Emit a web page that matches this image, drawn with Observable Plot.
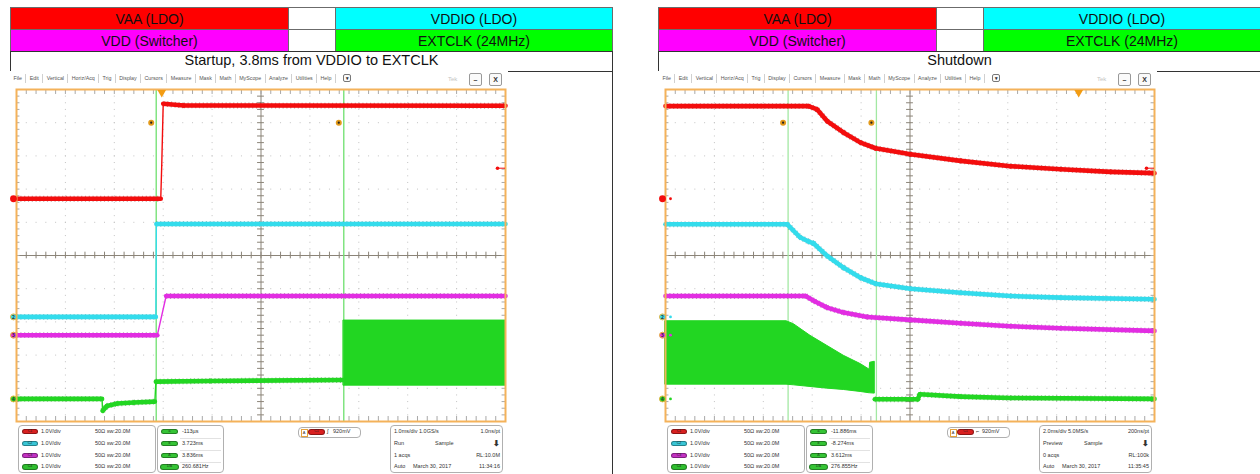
<!DOCTYPE html>
<html>
<head>
<meta charset="utf-8">
<script src="https://cdn.jsdelivr.net/npm/d3@7"></script>
<script src="https://cdn.jsdelivr.net/npm/@observablehq/plot@0.6"></script>
<style>
  html, body { margin: 0; padding: 0; background: #fff; }
  #page { position: relative; width: 1260px; height: 474px; overflow: hidden; background: #fff;
          font-family: "Liberation Sans", Arial, sans-serif; }
  .cell { position: absolute; box-sizing: border-box; border: 1px solid #6b6b6b; display: flex;
          align-items: center; justify-content: center; font-size: 14px; color: #111; line-height: 1; }
  .title { position: absolute; box-sizing: border-box; border: 1px solid #333; display: flex;
           align-items: center; justify-content: center; font-size: 14.5px; color: #111; background: #fff; line-height: 1; }
  .shot { position: absolute; background: #fff; }
  .menu { position: absolute; display: flex; font-family: "Liberation Sans", Arial, sans-serif;
          font-size: 5.3px; color: #555; white-space: nowrap; line-height: 9px; }
  .menu span { padding: 0 3.4px; border-right: 1px solid #d0d0d0; }
  .btn { position: absolute; box-sizing: border-box; border: 1px solid #999; border-radius: 2px;
         font-family: "Liberation Sans", Arial, sans-serif; font-size: 7px; color: #333; font-weight: bold;
         display: flex; align-items: center; justify-content: center; background: #fafafa; }
  .box { position: absolute; box-sizing: border-box; border: 1.5px solid #b0b0b0; border-radius: 4px; background: #fff; }
  .txt { position: absolute; font-family: "Liberation Sans", Arial, sans-serif; font-size: 5.5px; color: #333;
         white-space: nowrap; line-height: 1; }
  .pill { position: absolute; height: 5.5px; border-radius: 3px; box-sizing: border-box;
          border: 1px solid rgba(0,0,0,0.35); font-family: "Liberation Sans", Arial, sans-serif;
          font-size: 3.5px; line-height: 3.5px; text-align: center; color: #222; }
  .vline { position: absolute; width: 1px; background: #333; }
</style>
</head>
<body>
<div id="page"></div>
<script>
// ---------- legend above each capture ----------
const legendTop = ["VAA (LDO)", "VDDIO (LDO)"];
const legendBottom = ["VDD (Switcher)", "EXTCLK (24MHz)"];
const legendTopColors = ["#ff0000", "#00ffff"];
const legendBottomColors = ["#ff00ff", "#00ff00"];
const captureTitles = ["Startup, 3.8ms from VDDIO to EXTCLK", "Shutdown"];

// ---------- scope channels: C1 VAA, C2 VDDIO, C3 VDD, C4 EXTCLK ----------
const traceColors = ["#f30d0d", "#33dcec", "#e22de2", "#22d622"];
const traceEdge = ["#700000", "#0a6570", "#650a65", "#0b600b"];
const pillColors = ["#d92020", "#39c6d6", "#c331c3", "#2fbf2f"];
const groundDiv = [1.71, -1.85, -2.40, -4.32];   // ground reference, divisions from centre
const voltsPerDiv = [1.0, 1.0, 1.0, 1.0];
const channelSettings = ["1.0V/div", "1.0V/div", "1.0V/div", "1.0V/div"];
const triggerLevel = 0.92;                       // V on C1

// ---------- startup capture: [time ms, volts] ----------
const startupWindow = [-2.97, 7.03];
const startupMsPerDiv = 1.0;
const startupCursors = [-0.113, 3.723];
const startupVAA = [[-2.97, 0.0], [-0.02, 0.0], [0.0, 1.0], [0.03, 2.86], [0.45, 2.81], [7.03, 2.80]];
const startupVDDIO = [[-2.97, 0.0], [-0.12, 0.0], [-0.11, 2.80], [7.03, 2.80]];
const startupVDD = [[-2.97, 0.0], [-0.09, 0.0], [0.09, 1.18], [7.03, 1.18]];
const startupCLK = [[-2.97, 0.0], [-1.22, 0.0], [-1.21, -0.36], [-1.12, -0.21], [-0.91, -0.14],
                    [-0.57, -0.11], [-0.14, -0.08], [-0.12, 0.52], [1.0, 0.54], [3.72, 0.57]];
const startupCLKBand = [[3.723, 0.40, 2.36], [7.03, 0.40, 2.36]];   // [t, low, high]

// ---------- shutdown capture ----------
const shutdownWindow = [-16.9, 3.1];
const shutdownMsPerDiv = 2.0;
const shutdownCursors = [-11.886, -8.274];
const shutdownVAA = [[-16.9, 2.79], [-11.05, 2.79], [-10.70, 2.69], [-10.29, 2.34], [-9.61, 1.99],
                     [-8.92, 1.69], [-8.31, 1.52], [-6.88, 1.34], [-4.83, 1.14], [-2.79, 0.98],
                     [-0.74, 0.89], [1.30, 0.81], [3.1, 0.77]];
const shutdownVDDIO = [[-16.9, 2.79], [-11.92, 2.79], [-11.40, 2.40], [-11.05, 2.27], [-10.85, 2.22],
                       [-10.29, 1.84], [-9.61, 1.48], [-8.92, 1.18], [-8.31, 1.00], [-6.88, 0.85],
                       [-4.83, 0.73], [-2.79, 0.63], [-0.74, 0.58], [3.1, 0.53]];
const shutdownVDD = [[-16.9, 1.18], [-11.17, 1.18], [-10.80, 1.02], [-10.29, 0.83], [-9.61, 0.68],
                     [-8.65, 0.55], [-6.88, 0.46], [-4.83, 0.36], [-2.79, 0.27], [-0.74, 0.21], [3.1, 0.13]];
const shutdownCLKBand = [[-16.9, 0.43, 2.34], [-11.95, 0.43, 2.34], [-11.65, 0.41, 2.25], [-10.97, 0.36, 1.90],
                         [-10.29, 0.31, 1.60], [-9.61, 0.27, 1.30], [-8.92, 0.21, 1.05], [-8.55, 0.17, 0.88],
                         [-8.53, 0.17, 1.09], [-8.34, 0.16, 1.12]];
const shutdownCLK = [[-8.34, -0.01], [-6.58, -0.01], [-6.50, 0.14], [-4.83, 0.07], [-2.79, 0.03], [3.1, 0.0]];

// ---------- readouts ----------
const cursorLabels = ["a", "b", "Δ", "1/Δ"];
const startupReadout = ["-113µs", "3.723ms", "3.836ms", "260.681Hz"];
const shutdownReadout = ["-11.886ms", "-8.274ms", "3.612ms", "276.855Hz"];
const startupAcq = [["1.0ms/div", "1.0GS/s", "1.0ns/pt"], ["Run", "Sample", "⬇"], ["1 acqs", "", "RL:10.0M"], ["Auto", "March 30, 2017", "11:34:16"]];
const shutdownAcq = [["2.0ms/div", "5.0MS/s", "200ns/pt"], ["Preview", "Sample", "⬇"], ["0 acqs", "", "RL:100k"], ["Auto", "March 30, 2017", "11:35:45"]];
const menuItems = ["File", "Edit", "Vertical", "Horiz/Acq", "Trig", "Display", "Cursors", "Measure", "Mask", "Math", "MyScope", "Analyze", "Utilities", "Help"];

// ---------- drawing ----------
const page = document.getElementById("page");
function add(cls, x, y, w, h, html, extra) {
  const e = document.createElement("div");
  e.className = cls;
  e.style.left = x + "px"; e.style.top = y + "px";
  if (w != null) e.style.width = w + "px";
  if (h != null) e.style.height = h + "px";
  if (html != null) e.innerHTML = html;
  if (extra) Object.assign(e.style, extra);
  page.appendChild(e);
  return e;
}

const W = 489, H = 332, PAD = 12;

function scopePlot(o) {
  const [t0, t1] = o.window, td = o.msPerDiv, tc = t0 + 5 * td;
  const pxPerMs = W / (t1 - t0), pxPerDiv = H / 10;
  const gridX = d3.range(1, 10).filter(k => k !== 5).map(k => t0 + k * td);
  const gridY = [-4, -3, -2, -1, 1, 2, 3, 4];
  const fineX = d3.range(1, 50).map(k => t0 + k * td / 5);
  const fineY = d3.range(-24, 25).map(k => k / 5);
  const T = d => d[0];
  const screen = (ch, i = 1) => d => groundDiv[ch] + d[i] / voltsPerDiv[ch];

  // split a record into segments; fast edges are drawn as a thin line like the scope does
  const segments = (data, ch) => d3.pairs(data).map(([a, b]) => {
    const dx = Math.abs(b[0] - a[0]) * pxPerMs, dy = Math.abs(b[1] - a[1]) / voltsPerDiv[ch] * pxPerDiv;
    return {a, b, fast: dy > 8 && dy > 3 * dx};
  });
  const trace = (data, ch) => {
    const segs = segments(data, ch);
    const y = screen(ch);
    const link = (list, opts) => Plot.link(list, {x1: s => s.a[0], y1: s => y(s.a), x2: s => s.b[0], y2: s => y(s.b),
                                                  strokeLinecap: "round", ...opts});
    const slow = segs.filter(s => !s.fast);
    return [
      link(slow, {stroke: traceEdge[ch], strokeWidth: 5.8, strokeDasharray: "1.2,2.6", strokeOpacity: 0.4, strokeLinecap: "butt"}),
      link(slow, {stroke: traceColors[ch], strokeWidth: 4.6}),
      link(segs.filter(s => s.fast), {stroke: traceColors[ch], strokeWidth: 1.4})
    ];
  };
  const band = (data, ch) => [
    Plot.areaY(data, {x: T, y1: screen(ch, 1), y2: screen(ch, 2), fill: traceColors[ch], stroke: traceColors[ch], strokeWidth: 1})
  ];
  const grid = "#c2c2c2", axisC = "#8b8478";
  const chs = [0, 1, 2, 3];
  return Plot.plot({
    width: W + 2 * PAD, height: H + 2 * PAD, margin: PAD,
    x: {domain: o.window, axis: null},
    y: {domain: [-5, 5], axis: null},
    color: {type: "identity"},
    style: {background: "transparent", overflow: "visible"},
    marks: [
      Plot.ruleX(gridX, {stroke: grid, strokeDasharray: "1,5.64"}),
      Plot.ruleY(gridY, {stroke: grid, strokeDasharray: "1,8.78"}),
      Plot.ruleX([tc], {stroke: axisC}),
      Plot.ruleY([0], {stroke: axisC}),
      Plot.ruleX(fineX, {y1: -0.1, y2: 0.1, stroke: axisC}),
      Plot.ruleY(fineY, {x1: tc - 0.07 * td, x2: tc + 0.07 * td, stroke: axisC}),
      Plot.ruleX(fineX, {y1: 5, y2: 4.85, stroke: "#a8a8a8"}),
      Plot.ruleX(fineX, {y1: -5, y2: -4.85, stroke: "#a8a8a8"}),
      Plot.ruleY(fineY, {x1: t0, x2: t0 + 0.07 * td, stroke: "#a8a8a8"}),
      Plot.ruleY(fineY, {x1: t1, x2: t1 - 0.07 * td, stroke: "#a8a8a8"}),
      Plot.ruleX(o.cursors, {stroke: o.cursorColor, strokeWidth: 1.3}),
      ...o.bands.flatMap(([d, ch]) => band(d, ch)),
      ...o.traces.flatMap(([d, ch]) => trace(d, ch)),
      Plot.frame({stroke: "#f4b25a", strokeWidth: 2}),
      // trigger position
      Plot.dot([0], {x: d => d, y: () => 5, symbol: "triangle", rotate: 180, r: 3.2, fill: "#f39c12", dy: 3}),
      // trigger level on C1
      Plot.ruleY([groundDiv[0] + triggerLevel / voltsPerDiv[0]], {x1: t1 - 0.16 * td, x2: t1, stroke: "#f30d0d", strokeWidth: 1}),
      Plot.dot([groundDiv[0] + triggerLevel / voltsPerDiv[0]], {x: () => t1, y: d => d, dx: -8, r: 1.8, fill: "#f30d0d"}),
      // cursor handles
      Plot.dot(o.cursors, {x: d => d, y: () => 4, dx: -5, r: 3, fill: "#e39a1a"}),
      Plot.dot(o.cursors, {x: d => d, y: () => 4, dx: -5, r: 1.1, fill: "#222"}),
      // ground reference markers
      Plot.dot(chs, {x: () => t0, y: d => groundDiv[d], dx: o.tails ? 5 : 3, r: 1.4, fill: d => traceColors[d]}),
      Plot.dot(chs, {x: () => t0, y: d => groundDiv[d], dx: -3, r: d => d === 0 ? 5.5 : 4.2,
                     fill: d => traceColors[d], stroke: d => d === 0 ? "none" : "#e6b33e", strokeWidth: 1}),
      Plot.text(chs.slice(1), {x: () => t0, y: d => groundDiv[d], dx: -3, text: d => String(d + 1),
                               fontSize: 5, fill: "#333", fontWeight: "bold"})
    ]
  });
}

function drawPanel(p) {
  const hx = p.headerX, sx = p.shotX;
  // legend table
  add("cell", hx + 10, 7, 279, 23, legendTop[0], {background: legendTopColors[0]});
  add("cell", hx + 288, 7, 48, 23, "", {background: "#fff"});
  add("cell", hx + 335, 7, 278, 23, legendTop[1], {background: legendTopColors[1]});
  add("cell", hx + 10, 29, 279, 23, legendBottom[0], {background: legendBottomColors[0]});
  add("cell", hx + 288, 29, 48, 23, "", {background: "#fff"});
  add("cell", hx + 335, 29, 278, 23, legendBottom[1], {background: legendBottomColors[1]});
  add("title", hx + 10, 51, 603, 21, p.title, {paddingBottom: "2px"});
  if (p.rightRule) add("vline", hx + 612, 51, null, 430);

  // oscilloscope screen capture
  add("shot", sx - 7, 71, 499, 403);
  const menu = add("menu", sx - 6, 74, null, 9);
  menu.innerHTML = menuItems.map(m => `<span>${m}</span>`).join("");
  add("btn", sx + 327, 74, 8, 8, "▾", {fontSize: "5px", borderColor: "#777"});
  add("txt", sx + 432, 76, null, null, "Tek", {color: "#c4c4c4", fontSize: "6px"});
  add("btn", sx + 453, 73, 13, 13, "–");
  add("btn", sx + 473, 73, 13, 13, "X");

  const svg = scopePlot(p);
  svg.style.position = "absolute";
  svg.style.left = (sx - PAD) + "px";
  svg.style.top = (89 - PAD) + "px";
  page.appendChild(svg);

  // channel settings
  add("box", sx + 2, 425, 138, 48);
  const rowsY = [428.5, 440.5, 452.5, 464];
  channelSettings.forEach((s, i) => {
    add("pill", sx + 6, rowsY[i] + 0.3, 16, null, "C" + (i + 1), {background: pillColors[i]});
    add("txt", sx + 25, rowsY[i], null, null, s);
    add("txt", sx + 79, rowsY[i], null, null, "50Ω");
    add("txt", sx + 91, rowsY[i], null, null, "<span style='font-size:3.8px'>B</span>w:20.0M");
  });
  // cursor readouts
  add("box", sx + 141, 425, 67, 48);
  p.readout.forEach((s, i) => {
    add("pill", sx + 145 - (i === 3 ? 1 : 0), rowsY[i] + 0.3, i === 3 ? 19 : 17, null, cursorLabels[i], {background: "#35c435"});
    add("txt", sx + 166, rowsY[i], null, null, s);
    if (i < 3) add("shot", sx + 164, rowsY[i] + 9.5, 41, 0.6, null, {background: "#e2e2e2"});
  });
  // trigger
  add("box", sx + 282, 427, 63, 11);
  add("txt", sx + 284.5, 429, 5, 6, "A", {fontSize: "4px", border: "1px solid #e6a23c", textAlign: "center", lineHeight: "5px"});
  add("pill", sx + 292, 429.3, 17, null, "C1", {background: pillColors[0]});
  add("txt", sx + 311, 429, null, null, p.edge);
  add("txt", sx + 317, 429, null, null, "920mV");
  // acquisition
  add("box", sx + 374, 425, 113, 48);
  p.acq.forEach((r, i) => {
    add("txt", sx + 378, rowsY[i], null, null, r[0]);
    if (r[1]) add("txt", i === 1 ? sx + 419 : sx + (i === 0 ? 403 : 397), rowsY[i], null, null, r[1]);
    const e = add("txt", sx + 484, rowsY[i], null, null, r[2], {transform: "translateX(-100%)"});
    if (i === 1) { e.style.fontSize = "8px"; e.style.top = (rowsY[i] - 1) + "px"; e.style.fontWeight = "bold"; }
  });
}

drawPanel({
  headerX: 0, shotX: 16, title: captureTitles[0], rightRule: true,
  window: startupWindow, msPerDiv: startupMsPerDiv, cursors: startupCursors, cursorColor: "#6ee06e",
  traces: [[startupVAA, 0], [startupVDDIO, 1], [startupVDD, 2], [startupCLK, 3]],
  bands: [[startupCLKBand, 3]], tails: false,
  readout: startupReadout, acq: startupAcq, edge: "∫"
});
drawPanel({
  headerX: 648, shotX: 665, title: captureTitles[1], rightRule: false,
  window: shutdownWindow, msPerDiv: shutdownMsPerDiv, cursors: shutdownCursors, cursorColor: "#a3e8a3",
  traces: [[shutdownVAA, 0], [shutdownVDDIO, 1], [shutdownVDD, 2], [shutdownCLK, 3]],
  bands: [[shutdownCLKBand, 3]], tails: true,
  readout: shutdownReadout, acq: shutdownAcq, edge: "⌐"
});
</script>
</body>
</html>
